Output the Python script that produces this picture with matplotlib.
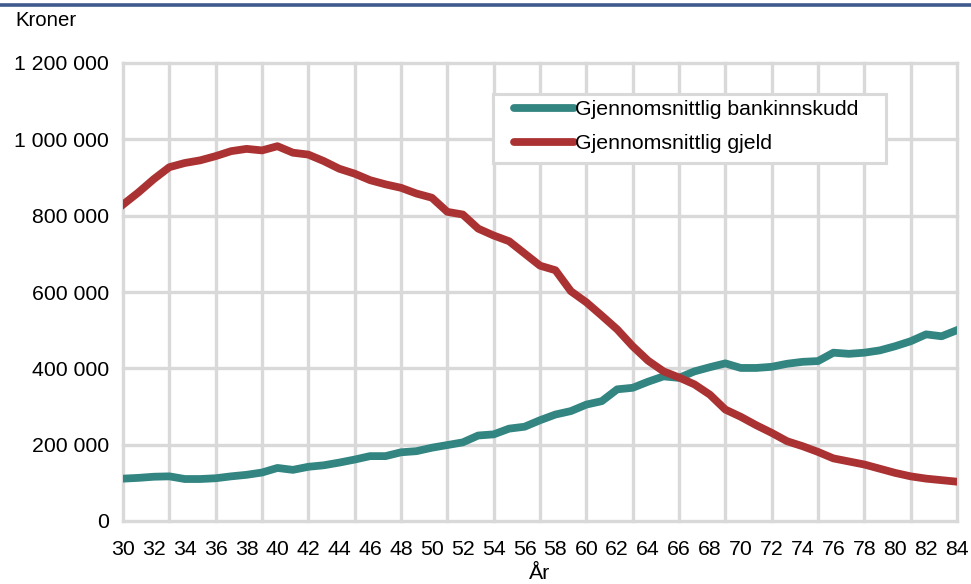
import matplotlib.pyplot as plt
from matplotlib.ticker import FixedLocator, FuncFormatter
from matplotlib.lines import Line2D
from matplotlib.patches import Rectangle

plt.rcParams['font.family'] = ['Liberation Sans', 'DejaVu Sans']

alder = list(range(30, 85))

bankinnskudd = [111000, 113000, 116000, 117000, 110000, 110000, 112000, 117000, 121000, 127000,
                139000, 134000, 142000, 146000, 153000, 161000, 170000, 170000, 180000, 183000,
                192000, 199000, 206000, 224000, 227000, 242000, 247000, 264000, 279000, 288000,
                305000, 314000, 345000, 349000, 365000, 379000, 375000, 392000, 403000, 413000,
                401000, 401000, 404000, 412000, 417000, 419000, 441000, 438000, 441000, 447000,
                458000, 471000, 489000, 484000, 500000]

gjeld = [829000, 861000, 896000, 927000, 938000, 945000, 956000, 969000, 975000, 971000,
         982000, 965000, 960000, 943000, 923000, 910000, 893000, 882000, 873000, 858000,
         847000, 810000, 803000, 766000, 748000, 733000, 701000, 669000, 657000, 602000,
         573000, 538000, 502000, 458000, 420000, 392000, 376000, 358000, 331000, 292000,
         273000, 251000, 231000, 209000, 196000, 181000, 164000, 156000, 148000, 137000,
         126000, 117000, 111000, 107000, 103000]

serie_navn = ['Gjennomsnittlig bankinnskudd', 'Gjennomsnittlig gjeld']
farger = ['#328581', '#AB3232']
grid_farge = '#D9D9D9'
fs = 15.3

W, H = 971, 584
fig = plt.figure(figsize=(W / 100, H / 100), dpi=100)
ax = fig.add_axes([123 / W, 1 - 521 / H, (957 - 123) / W, (521 - 63) / H])

ax.plot(alder, bankinnskudd, color=farger[0], lw=5.6, solid_joinstyle='round', zorder=3)
ax.plot(alder, gjeld, color=farger[1], lw=5.6, solid_joinstyle='round', zorder=3)

ax.set_xlim(30, 84)
ax.set_ylim(0, 1200000)

ax.xaxis.set_major_locator(FixedLocator(list(range(30, 85, 2))))
ax.xaxis.set_minor_locator(FixedLocator(list(range(30, 85, 3))))
ax.xaxis.remove_overlapping_locs = False
ax.yaxis.set_major_locator(FixedLocator(list(range(0, 1200001, 200000))))
ax.yaxis.set_major_formatter(FuncFormatter(lambda v, p: f'{int(v):,}'.replace(',', ' ')))

ax.grid(False)
ax.grid(True, which='minor', axis='x', color=grid_farge, lw=2.4)
ax.grid(True, which='major', axis='y', color=grid_farge, lw=2.4)
for t in ax.xaxis.get_minor_ticks() + ax.yaxis.get_major_ticks():
    t.gridline.set_clip_on(False)
ax.set_axisbelow(True)

for s in ax.spines.values():
    s.set_visible(False)
ax.tick_params(axis='both', which='both', length=0, labelsize=fs, colors='#000000')
ax.tick_params(axis='y', pad=10)
ax.tick_params(axis='x', pad=14)

ax.set_xlabel('År', fontsize=fs, labelpad=3)
fig.text(15 / W, 1 - 21 / H, 'Kroner', fontsize=fs * 0.96, ha='left', va='center')

# legend box
def fx(px):
    return px / W

def fy(py):
    return 1 - py / H

fig.add_artist(Rectangle((fx(493), fy(163)), fx(886) - fx(493), fy(94) - fy(163),
                         facecolor='white', edgecolor=grid_farge, lw=2.2, zorder=4,
                         transform=fig.transFigure))

handles = [Line2D([], [], color=farger[0], lw=5.6, solid_capstyle='round'),
           Line2D([], [], color=farger[1], lw=5.6, solid_capstyle='round')]
leg = fig.legend(handles, serie_navn, loc='upper left', bbox_to_anchor=(fx(514), fy(100)),
                 fontsize=fs, frameon=False, handlelength=2.8, handletextpad=0.08,
                 borderpad=0, labelspacing=0.72, borderaxespad=0)
leg.set_zorder(5)

fig.add_artist(Line2D([0, 1], [fy(5), fy(5)], color='#3F5A8E', lw=2.6, transform=fig.transFigure))

fig.savefig('out.png', dpi=100, facecolor='white')
